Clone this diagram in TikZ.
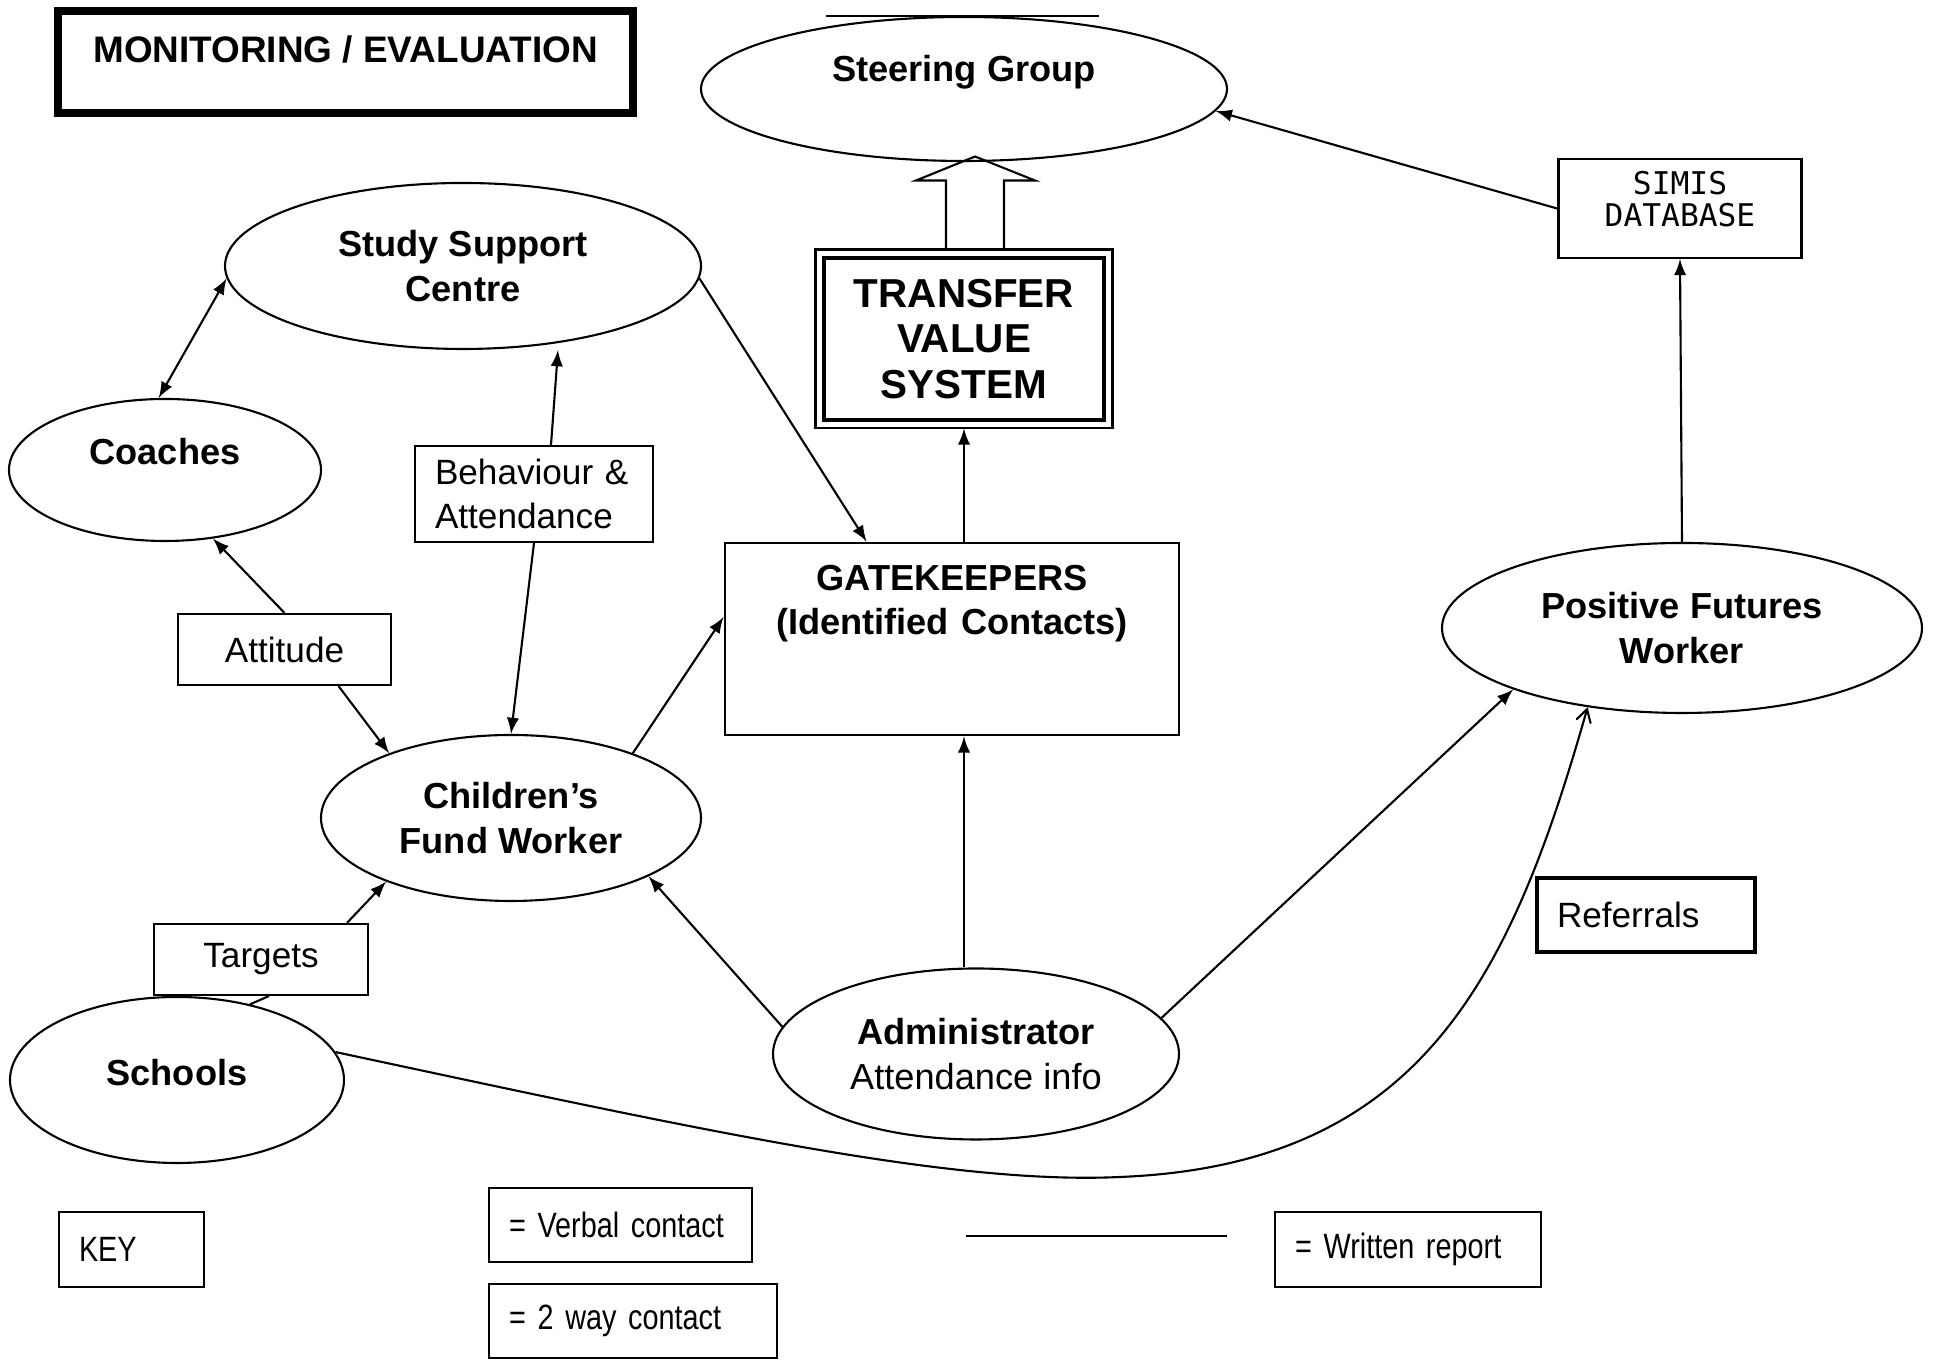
\documentclass[tikz,border=0pt]{standalone}
\usepackage{fontspec}
\setmainfont{Liberation Sans}
\newfontfamily\narrowfont{Liberation Sans}[FakeStretch=0.82]
\newfontfamily\simisfont{DejaVu Sans Mono}
\usepackage{tikz}
\usetikzlibrary{arrows,shapes,positioning}
\tikzstyle{oval} = [ellipse, draw, line width=0.6pt, inner sep=0pt, align=center, font=\bfseries\fontsize{10.3}{12.7}\selectfont]
\tikzstyle{tag} = [rectangle, draw, line width=0.6pt, inner sep=0pt, align=center, font=\fontsize{10}{12.4}\selectfont]
\tikzstyle{keybox} = [rectangle, draw, line width=0.8pt, inner xsep=0.2cm, inner ysep=0pt, align=left, font=\narrowfont\fontsize{10}{12}\selectfont]
\tikzstyle{arrow} = [->, >=latex, line width=0.6pt]
\tikzstyle{twoway} = [<->, >=latex, line width=0.6pt]
\tikzstyle{link} = [line width=0.6pt]

\begin{document}
\begin{tikzpicture}
\useasboundingbox (0,0) rectangle (19.36,13.63);
% Title
\node (mon) [rectangle, draw, line width=2.5pt, minimum width=5.75cm, minimum height=1.02cm, text depth=0.26cm, font=\bfseries\fontsize{10.5}{12}\selectfont] at (3.455,13.01) {MONITORING / EVALUATION};

% Top
\node (sg) [oval, minimum width=5.26cm, minimum height=1.44cm, text depth=0.42cm] at (9.64,12.74) {Steering Group};
\draw[link] ([xshift=-1.38cm]sg.north) -- ([xshift=1.35cm]sg.north);
\node (tvs) [rectangle, draw, line width=1.4pt, minimum width=2.80cm, minimum height=1.62cm, align=center, font=\bfseries\fontsize{11.5}{12.9}\selectfont] at (9.64,10.24) {TRANSFER\\VALUE\\SYSTEM};
\draw[link] ([shift={(-0.06,0.06)}]tvs.north west) rectangle ([shift={(0.06,-0.06)}]tvs.south east);
\draw[link] ([xshift=-0.18cm,yshift=0.06cm]tvs.north) -- ++(0,0.69) -- ++(-0.3,0) -- ++(0.59,0.24) -- ++(0.6,-0.24) -- ++(-0.31,0) -- ++(0,-0.69);
\node (simis) [rectangle, draw, line width=0.7pt, minimum width=2.39cm, minimum height=0.97cm, text width=2.2cm, align=center, text depth=0.52cm, font=\simisfont\fontsize{8.9}{9.3}\selectfont] at (16.80,11.545) {SIMIS\\DATABASE};

% Middle
\node (ssc) [oval, minimum width=4.76cm, minimum height=1.66cm] at (4.63,10.97) {Study Support\\Centre};
\node (coach) [oval, minimum width=3.12cm, minimum height=1.42cm, text depth=0.38cm] at (1.65,8.93) {Coaches};
\node (beh) [tag, minimum width=2.38cm, minimum height=0.96cm, text width=1.98cm, align=left] at (5.34,8.69) {Behaviour \&\\Attendance};
\node (att) [tag, minimum width=2.13cm, minimum height=0.71cm] at (2.845,7.135) {Attitude};
\node (gk) [rectangle, draw, line width=0.8pt, minimum width=4.54cm, minimum height=1.92cm, text width=4.3cm, align=center, text depth=1.23cm, font=\bfseries\fontsize{10.3}{12.7}\selectfont] at (9.52,7.24) {GATEKEEPERS\\(Identified Contacts)};
\node (pfw) [oval, minimum width=4.80cm, minimum height=1.70cm] at (16.82,7.35) {Positive Futures\\Worker};
\node (cfw) [oval, minimum width=3.80cm, minimum height=1.66cm] at (5.11,5.45) {Children’s\\Fund Worker};
\node (ref) [tag, line width=1pt, minimum width=2.18cm, minimum height=0.74cm, text width=1.78cm, align=left] at (16.46,4.48) {Referrals};

% Bottom
\node (tgt) [tag, minimum width=2.14cm, minimum height=0.71cm] at (2.61,4.035) {Targets};
\node (sch) [oval, minimum width=3.34cm, minimum height=1.66cm, text depth=0.16cm] at (1.77,2.83) {Schools};
\node (admin) [oval, minimum width=4.06cm, minimum height=1.71cm] at (9.76,3.09) {Administrator\\{\mdseries Attendance info}};

% Key
\node (key) [keybox, minimum width=1.45cm, minimum height=0.75cm, text width=1.05cm] at (1.315,1.135) {KEY};
\node (kverbal) [keybox, minimum width=2.63cm, minimum height=0.74cm, text width=2.23cm] at (6.205,1.38) {= Verbal contact};
\node (ktwoway) [keybox, minimum width=2.88cm, minimum height=0.74cm, text width=2.48cm] at (6.33,0.42) {= 2 way contact};
\coordinate (kl1) at (9.66,1.27);
\coordinate (kl2) at (12.27,1.27);
\draw[link] (kl1) -- (kl2);
\node (kwritten) [keybox, minimum width=2.66cm, minimum height=0.75cm, text width=2.26cm] at (14.08,1.135) {= Written report};

% Links
\draw[arrow] (simis.west) -- (sg.-5);
\draw[arrow] (pfw.north) -- (simis.south);
\draw[arrow] (tvs.south |- gk.north) -- ([yshift=-0.06cm]tvs.south);
\draw[arrow] (tvs.south |- admin.north) -- (tvs.south |- gk.south);
\draw[arrow] (ssc.-3) -- ([xshift=1.43cm]gk.north west);
\draw[arrow] (cfw.28) -- ([yshift=0.22cm]gk.west);
\draw[twoway] (coach.95) -- (ssc.183);
\draw[arrow] (att.north) -- (coach.-55);
\draw[arrow] ([xshift=0.54cm]att.south) -- (cfw.152);
\draw[arrow] ([xshift=0.17cm]beh.north) -- ([xshift=0.95cm]ssc.south);
\draw[arrow] (beh.south) -- (cfw.north);
\draw[link] (sch.46) -- ([xshift=0.08cm]tgt.south);
\draw[arrow] ([xshift=0.86cm]tgt.north) -- (cfw.207);
\draw[arrow] (admin.172) -- (cfw.-23);
\draw[arrow] (admin.11) -- (pfw.200);
\draw[link, ->, >=angle 60] (sch.10) .. controls (7.0,2.33) and (9.5,1.78) .. (11.2,1.86) .. controls (14.2,1.98) and (15.1,3.83) .. (pfw.220);
\end{tikzpicture}
\end{document}
